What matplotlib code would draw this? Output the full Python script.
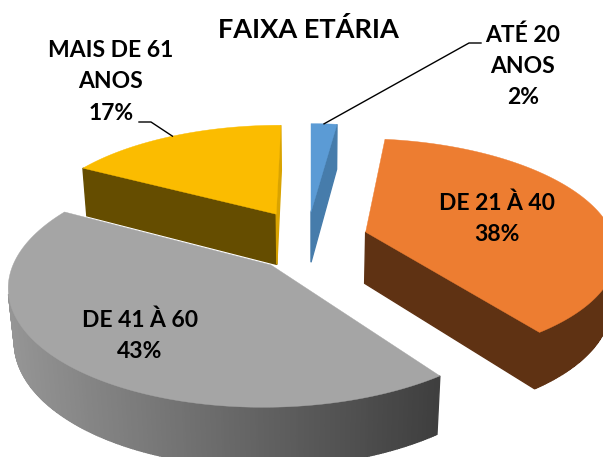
import matplotlib
matplotlib.use("Agg")
import matplotlib.pyplot as plt
import matplotlib.colors as mcolors
import numpy as np

plt.rcParams['font.family'] = ['Lato', 'DejaVu Sans']

categories = ["ATÉ 20\nANOS", "DE 21 À 40", "DE 41 À 60", "MAIS DE 61\nANOS"]
percents = [2, 38, 43, 17]

top_colors = ["#5B9BD5", "#ED7D31", "#A5A5A5", "#FBBC00"]
start_side_colors = ["#467CAB", "#5F3213", "#5F5F5F", "#654D00"]
end_side_colors = ["#467CAB", "#5F3213", "#5F5F5F", "#D9A300"]
outer_colors = ["#467CAB", "#5F3213", None, "#654D00"]
gray_side = mcolors.LinearSegmentedColormap.from_list("gray_side", ["#959595", "#3F3F3F"])

# deslocamento de cada fatia (explosao), em raios do disco
shift_x = [0.0, 0.222, -0.155, -0.145]
shift_y = [0.48, 0.29, 0.0, 0.46]

# camera
cx, cy = 311.0, 265.0
scale = 258.0
persp = 0.165
squash = 118.8
depth = 54.0
depth_persp = 0.02

W, H = 603, 457


def project(x, y, bottom=False):
    w = 1 + persp * y
    if bottom:
        w = w + depth_persp
        return cx + scale * x / w, cy + (depth - squash * y) / w
    return cx + scale * x / w, cy - squash * y / w


def rim(theta, x0, y0):
    t = np.radians(theta)
    return x0 + np.sin(t), y0 + np.cos(t)


def draw_quad(ax, p1, p2, color, z):
    a = project(*p1)
    b = project(*p2)
    c = project(*p2, bottom=True)
    d = project(*p1, bottom=True)
    # so desenha as faces voltadas para a camera
    area = (b[0] - a[0]) * (c[1] - a[1]) - (c[0] - a[0]) * (b[1] - a[1])
    if area >= 0:
        return
    ax.fill([a[0], b[0], c[0], d[0]], [a[1], b[1], c[1], d[1]],
            facecolor=color, edgecolor=color, linewidth=1.0, zorder=z)


fig = plt.figure(figsize=(W / 100, H / 100), dpi=100)
ax = fig.add_axes([0, 0, 1, 1])
ax.set_xlim(0, W)
ax.set_ylim(H, 0)
ax.axis("off")

angles = np.cumsum([0] + percents) * 3.6
anchors = {}

# ordem de desenho: de tras para frente
for z, i in enumerate([0, 3, 1, 2]):
    a1, a2 = angles[i], angles[i + 1]
    x0, y0 = shift_x[i], shift_y[i]
    thetas = np.linspace(a1, a2, int(a2 - a1) * 2 + 2)
    arc = [rim(t, x0, y0) for t in thetas]
    zb = 2 + z * 2

    draw_quad(ax, (x0, y0), arc[0], start_side_colors[i], zb)
    draw_quad(ax, arc[-1], (x0, y0), end_side_colors[i], zb)
    for k in range(len(arc) - 1):
        col = outer_colors[i]
        if col is None:
            px = project(*arc[k], bottom=True)[0]
            col = gray_side(np.clip((px - 15) / 420, 0, 1))
        draw_quad(ax, arc[k], arc[k + 1], col, zb)

    pts = [project(x0, y0)] + [project(*p) for p in arc]
    ax.fill([p[0] for p in pts], [p[1] for p in pts], facecolor=top_colors[i],
            edgecolor=top_colors[i], linewidth=0.3, zorder=zb + 1)

    anchors[i] = project(*rim((a1 + a2) / 2, x0, y0))

# linhas de chamada
ax.plot([anchors[0][0], 469, 481], [anchors[0][1], 43, 43], color="black", lw=1.0, zorder=20)
ax.plot([anchors[3][0], 151, 139], [anchors[3][1], 122, 122], color="black", lw=1.0, zorder=20)

ax.text(308, 30, "FAIXA ETÁRIA", ha="center", va="center", fontsize=19.5,
        fontweight="bold", color="black", zorder=30)

label_pos = [(523, 66), (497, 219), (140, 336), (111, 82)]
for cat, pct, pos in zip(categories, percents, label_pos):
    ax.text(pos[0], pos[1], f"{cat}\n{pct}%", ha="center", va="center", fontsize=16.5,
            fontweight="bold", color="black", linespacing=1.6, zorder=30)

fig.savefig("out.png", dpi=100)
